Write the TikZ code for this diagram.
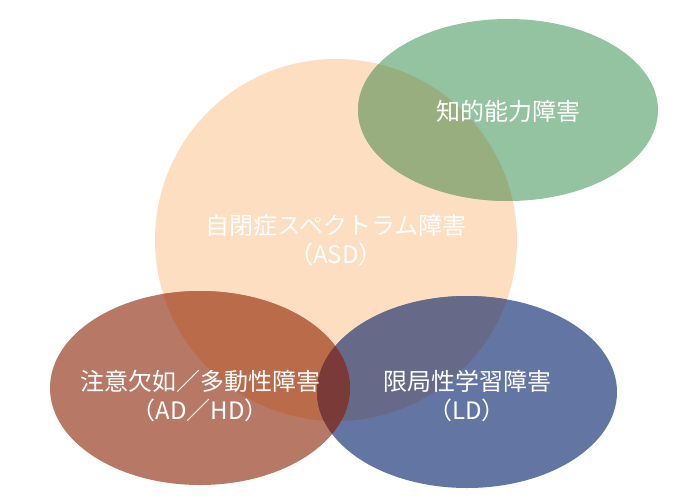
\documentclass[tikz,border=0pt]{standalone}
\usepackage{fontspec}
\newfontfamily\cjk{Noto Sans CJK JP}
\definecolor{peach}{HTML}{FDDEC0}
\definecolor{grn}{HTML}{93C3A0}
\definecolor{grnpeach}{HTML}{99AE7E}
\definecolor{brn}{HTML}{B77966}
\definecolor{brnpeach}{HTML}{B96B4A}
\definecolor{blu}{HTML}{6375A2}
\definecolor{blupeach}{HTML}{676988}
\definecolor{brnblu}{HTML}{7B3B3A}
\definecolor{triple}{HTML}{7A3A38}
\tikzset{
  lbl/.style={text=white, font=\cjk\fontsize{24}{29}\selectfont, align=center, inner sep=0pt},
}
\def\asdpath{(336,240) circle[radius=181]}
\def\idpath{(508,110) ellipse[x radius=150, y radius=91]}
\def\adpath{(200,388) ellipse[x radius=150, y radius=97]}
\def\ldpath{(467,392) ellipse[x radius=150, y radius=96]}
\begin{document}
\begin{tikzpicture}[x=1pt,y=-1pt]
\useasboundingbox (0,0) rectangle (700,500);
\fill[white] (0,0) rectangle (700,500);
\fill[peach] \asdpath;
\fill[grn] \idpath;
\fill[brn] \adpath;
\fill[blu] \ldpath;
\begin{scope}\clip \asdpath; \fill[grnpeach] \idpath; \end{scope}
\begin{scope}\clip \asdpath; \fill[brnpeach] \adpath; \end{scope}
\begin{scope}\clip \asdpath; \fill[blupeach] \ldpath; \end{scope}
\begin{scope}\clip \adpath; \fill[brnblu] \ldpath; \end{scope}
\begin{scope}\clip \asdpath; \clip \adpath; \fill[triple] \ldpath; \end{scope}
\node[lbl] (asd) at (336,240) {自閉症スペクトラム障害\\（ASD）};
\node[lbl] (id) at (508,111) {知的能力障害};
\node[lbl] (adhd) at (200,396) {注意欠如／多動性障害\\（AD／HD）};
\node[lbl] (ld) at (467,396) {限局性学習障害\\（LD）};
\end{tikzpicture}
\end{document}
